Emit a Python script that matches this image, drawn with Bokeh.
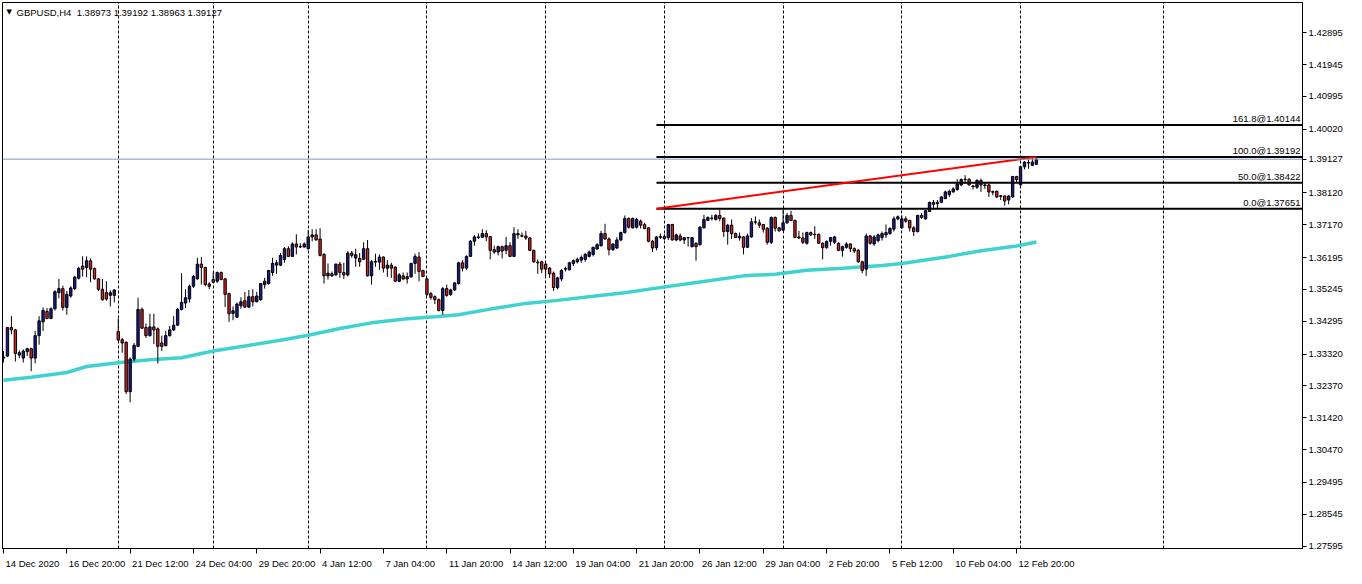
from bokeh.plotting import figure
from bokeh.models import (ColumnDataSource, FixedTicker, Span, Label, LabelSet, Range1d,
                          PrintfTickFormatter)
from bokeh.core.properties import value
from bokeh.embed import file_html
from bokeh.resources import INLINE

# ---------------- data ----------------
SYMBOL_TITLE = "GBPUSD,H4  1.38973 1.39192 1.38963 1.39127"

BARS = list(range(1, 263))

OPEN = [
    1.3320, 1.3326, 1.3411, 1.3404, 1.3329, 1.3320, 1.3339, 1.3348, 1.3320, 1.3387,
    1.3428, 1.3459, 1.3438, 1.3467, 1.3515, 1.3527, 1.3471, 1.3505, 1.3527, 1.3558,
    1.3594, 1.3590, 1.3610, 1.3587, 1.3556, 1.3525, 1.3515, 1.3507, 1.3507, 1.3399,
    1.3375, 1.3367, 1.3220, 1.3317, 1.3355, 1.3465, 1.3411, 1.3387, 1.3413, 1.3407,
    1.3365, 1.3357, 1.3387, 1.3404, 1.3418, 1.3465, 1.3484, 1.3496, 1.3534, 1.3556,
    1.3600, 1.3590, 1.3541, 1.3554, 1.3549, 1.3575, 1.3556, 1.3512, 1.3453, 1.3442,
    1.3476, 1.3491, 1.3472, 1.3503, 1.3488, 1.3494, 1.3539, 1.3542, 1.3575, 1.3597,
    1.3597, 1.3614, 1.3646, 1.3623, 1.3660, 1.3651, 1.3651, 1.3646, 1.3681, 1.3687,
    1.3675, 1.3629, 1.3565, 1.3571, 1.3568, 1.3600, 1.3575, 1.3568, 1.3633, 1.3618,
    1.3617, 1.3614, 1.3646, 1.3565, 1.3606, 1.3606, 1.3621, 1.3588, 1.3597, 1.3591,
    1.3549, 1.3565, 1.3556, 1.3562, 1.3602, 1.3621, 1.3581, 1.3556, 1.3512, 1.3503,
    1.3494, 1.3462, 1.3527, 1.3510, 1.3523, 1.3542, 1.3604, 1.3588, 1.3623, 1.3668,
    1.3679, 1.3680, 1.3691, 1.3682, 1.3643, 1.3636, 1.3652, 1.3641, 1.3655, 1.3623,
    1.3691, 1.3685, 1.3684, 1.3678, 1.3641, 1.3606, 1.3607, 1.3600, 1.3588, 1.3573,
    1.3530, 1.3556, 1.3585, 1.3583, 1.3602, 1.3607, 1.3612, 1.3614, 1.3623, 1.3629,
    1.3645, 1.3655, 1.3691, 1.3675, 1.3643, 1.3648, 1.3672, 1.3694, 1.3736, 1.3708,
    1.3710, 1.3728, 1.3718, 1.3708, 1.3668, 1.3649, 1.3680, 1.3676, 1.3679, 1.3718,
    1.3672, 1.3684, 1.3672, 1.3678, 1.3652, 1.3662, 1.3658, 1.3708, 1.3730, 1.3736,
    1.3733, 1.3745, 1.3737, 1.3697, 1.3716, 1.3691, 1.3678, 1.3681, 1.3650, 1.3681,
    1.3725, 1.3723, 1.3718, 1.3707, 1.3665, 1.3739, 1.3708, 1.3701, 1.3723, 1.3745,
    1.3730, 1.3681, 1.3678, 1.3662, 1.3694, 1.3688, 1.3689, 1.3662, 1.3649, 1.3668,
    1.3665, 1.3662, 1.3641, 1.3650, 1.3660, 1.3646, 1.3641, 1.3607, 1.3585, 1.3684,
    1.3660, 1.3670, 1.3679, 1.3687, 1.3691, 1.3704, 1.3735, 1.3708, 1.3735, 1.3730,
    1.3708, 1.3697, 1.3745, 1.3735, 1.3757, 1.3778, 1.3780, 1.3784, 1.3795, 1.3807,
    1.3815, 1.3822, 1.3836, 1.3852, 1.3853, 1.3833, 1.3829, 1.3849, 1.3836, 1.3836,
    1.3816, 1.3817, 1.3804, 1.3803, 1.3791, 1.3800, 1.3861, 1.3836, 1.3890, 1.3901,
    1.3894, 1.38973,
]

HIGH = [
    1.3341, 1.3413, 1.3445, 1.3407, 1.3343, 1.3346, 1.3351, 1.3351, 1.3401, 1.3445,
    1.3471, 1.3469, 1.3471, 1.3522, 1.3556, 1.3536, 1.3520, 1.3534, 1.3565, 1.3592,
    1.3623, 1.3623, 1.3617, 1.3590, 1.3558, 1.3556, 1.3549, 1.3522, 1.3525, 1.3438,
    1.3380, 1.3370, 1.3322, 1.3365, 1.3500, 1.3471, 1.3423, 1.3452, 1.3452, 1.3411,
    1.3387, 1.3401, 1.3416, 1.3445, 1.3469, 1.3573, 1.3525, 1.3539, 1.3568, 1.3619,
    1.3621, 1.3592, 1.3546, 1.3575, 1.3578, 1.3578, 1.3559, 1.3515, 1.3474, 1.3486,
    1.3501, 1.3517, 1.3523, 1.3525, 1.3517, 1.3544, 1.3559, 1.3583, 1.3619, 1.3612,
    1.3633, 1.3651, 1.3653, 1.3665, 1.3689, 1.3662, 1.3665, 1.3701, 1.3704, 1.3704,
    1.3707, 1.3633, 1.3602, 1.3578, 1.3602, 1.3607, 1.3604, 1.3639, 1.3639, 1.3646,
    1.3633, 1.3665, 1.3672, 1.3612, 1.3631, 1.3629, 1.3623, 1.3612, 1.3604, 1.3594,
    1.3573, 1.3575, 1.3575, 1.3604, 1.3631, 1.3636, 1.3583, 1.3559, 1.3517, 1.3507,
    1.3498, 1.3532, 1.3539, 1.3527, 1.3546, 1.3607, 1.3612, 1.3626, 1.3672, 1.3687,
    1.3691, 1.3704, 1.3701, 1.3684, 1.3655, 1.3655, 1.3655, 1.3681, 1.3665, 1.3710,
    1.3704, 1.3694, 1.3699, 1.3680, 1.3643, 1.3614, 1.3610, 1.3604, 1.3591, 1.3578,
    1.3562, 1.3585, 1.3592, 1.3607, 1.3614, 1.3620, 1.3626, 1.3633, 1.3641, 1.3652,
    1.3662, 1.3699, 1.3720, 1.3680, 1.3662, 1.3680, 1.3697, 1.3745, 1.3739, 1.3739,
    1.3738, 1.3733, 1.3723, 1.3710, 1.3672, 1.3684, 1.3691, 1.3689, 1.3720, 1.3720,
    1.3691, 1.3691, 1.3681, 1.3681, 1.3681, 1.3665, 1.3713, 1.3747, 1.3742, 1.3747,
    1.3749, 1.3762, 1.3739, 1.3720, 1.3733, 1.3694, 1.3694, 1.3684, 1.3691, 1.3737,
    1.3742, 1.3733, 1.3720, 1.3710, 1.3742, 1.3742, 1.3710, 1.3762, 1.3752, 1.3759,
    1.3733, 1.3699, 1.3694, 1.3697, 1.3697, 1.3713, 1.3691, 1.3665, 1.3670, 1.3681,
    1.3684, 1.3665, 1.3655, 1.3665, 1.3662, 1.3650, 1.3645, 1.3610, 1.3691, 1.3687,
    1.3687, 1.3691, 1.3697, 1.3718, 1.3710, 1.3742, 1.3745, 1.3745, 1.3742, 1.3732,
    1.3713, 1.3747, 1.3752, 1.3762, 1.3786, 1.3791, 1.3791, 1.3803, 1.3819, 1.3822,
    1.3829, 1.3853, 1.3855, 1.3865, 1.3855, 1.3836, 1.3853, 1.3855, 1.3842, 1.3839,
    1.3819, 1.3819, 1.3805, 1.3805, 1.3805, 1.3863, 1.3863, 1.3892, 1.3907, 1.3912,
    1.3916, 1.39192,
]

LOW = [
    1.3307, 1.3323, 1.3391, 1.3310, 1.3320, 1.3307, 1.3326, 1.3281, 1.3304, 1.3360,
    1.3401, 1.3436, 1.3436, 1.3462, 1.3498, 1.3462, 1.3449, 1.3500, 1.3523, 1.3554,
    1.3563, 1.3561, 1.3546, 1.3554, 1.3520, 1.3491, 1.3491, 1.3474, 1.3486, 1.3370,
    1.3336, 1.3213, 1.3188, 1.3310, 1.3352, 1.3407, 1.3380, 1.3384, 1.3362, 1.3304,
    1.3341, 1.3355, 1.3384, 1.3401, 1.3416, 1.3462, 1.3469, 1.3486, 1.3529, 1.3554,
    1.3539, 1.3534, 1.3525, 1.3544, 1.3544, 1.3552, 1.3472, 1.3428, 1.3433, 1.3440,
    1.3467, 1.3469, 1.3469, 1.3474, 1.3486, 1.3491, 1.3527, 1.3539, 1.3565, 1.3571,
    1.3594, 1.3604, 1.3621, 1.3621, 1.3629, 1.3648, 1.3649, 1.3643, 1.3668, 1.3670,
    1.3623, 1.3542, 1.3554, 1.3562, 1.3565, 1.3559, 1.3556, 1.3563, 1.3619, 1.3592,
    1.3592, 1.3612, 1.3563, 1.3539, 1.3592, 1.3583, 1.3575, 1.3562, 1.3559, 1.3546,
    1.3546, 1.3552, 1.3542, 1.3559, 1.3571, 1.3549, 1.3562, 1.3505, 1.3494, 1.3481,
    1.3459, 1.3449, 1.3503, 1.3505, 1.3520, 1.3539, 1.3578, 1.3583, 1.3621, 1.3655,
    1.3675, 1.3678, 1.3668, 1.3614, 1.3631, 1.3626, 1.3617, 1.3629, 1.3621, 1.3621,
    1.3675, 1.3680, 1.3672, 1.3639, 1.3604, 1.3571, 1.3573, 1.3565, 1.3559, 1.3520,
    1.3525, 1.3549, 1.3578, 1.3581, 1.3594, 1.3602, 1.3604, 1.3607, 1.3620, 1.3623,
    1.3643, 1.3652, 1.3672, 1.3626, 1.3639, 1.3645, 1.3668, 1.3691, 1.3706, 1.3706,
    1.3706, 1.3706, 1.3704, 1.3665, 1.3636, 1.3641, 1.3675, 1.3672, 1.3672, 1.3670,
    1.3668, 1.3668, 1.3660, 1.3652, 1.3650, 1.3610, 1.3655, 1.3707, 1.3728, 1.3730,
    1.3730, 1.3728, 1.3681, 1.3658, 1.3675, 1.3678, 1.3670, 1.3629, 1.3649, 1.3679,
    1.3718, 1.3708, 1.3694, 1.3658, 1.3660, 1.3697, 1.3697, 1.3699, 1.3720, 1.3728,
    1.3678, 1.3675, 1.3660, 1.3658, 1.3684, 1.3675, 1.3660, 1.3614, 1.3646, 1.3655,
    1.3660, 1.3639, 1.3622, 1.3646, 1.3636, 1.3633, 1.3604, 1.3573, 1.3565, 1.3658,
    1.3655, 1.3665, 1.3670, 1.3678, 1.3687, 1.3697, 1.3730, 1.3706, 1.3723, 1.3697,
    1.3684, 1.3694, 1.3735, 1.3732, 1.3755, 1.3762, 1.3765, 1.3781, 1.3794, 1.3800,
    1.3813, 1.3819, 1.3832, 1.3839, 1.3834, 1.3822, 1.3824, 1.3815, 1.3824, 1.3800,
    1.3805, 1.3797, 1.3791, 1.3774, 1.3778, 1.3797, 1.3844, 1.3834, 1.3882, 1.3884,
    1.3892, 1.38963,
]

CLOSE = [
    1.3323, 1.3411, 1.3404, 1.3334, 1.3336, 1.3341, 1.3348, 1.3320, 1.3387, 1.3431,
    1.3462, 1.3438, 1.3467, 1.3518, 1.3527, 1.3471, 1.3510, 1.3529, 1.3561, 1.3587,
    1.3585, 1.3610, 1.3585, 1.3556, 1.3525, 1.3494, 1.3496, 1.3515, 1.3523, 1.3374,
    1.3365, 1.3220, 1.3317, 1.3358, 1.3465, 1.3409, 1.3387, 1.3413, 1.3404, 1.3355,
    1.3355, 1.3387, 1.3404, 1.3418, 1.3465, 1.3486, 1.3500, 1.3534, 1.3563, 1.3600,
    1.3590, 1.3539, 1.3534, 1.3546, 1.3575, 1.3554, 1.3510, 1.3452, 1.3461, 1.3481,
    1.3488, 1.3472, 1.3503, 1.3488, 1.3505, 1.3542, 1.3549, 1.3581, 1.3602, 1.3604,
    1.3626, 1.3646, 1.3623, 1.3660, 1.3651, 1.3652, 1.3660, 1.3681, 1.3687, 1.3672,
    1.3626, 1.3565, 1.3573, 1.3565, 1.3600, 1.3575, 1.3568, 1.3633, 1.3626, 1.3628,
    1.3607, 1.3646, 1.3565, 1.3607, 1.3608, 1.3621, 1.3588, 1.3597, 1.3588, 1.3549,
    1.3568, 1.3556, 1.3563, 1.3602, 1.3623, 1.3578, 1.3563, 1.3510, 1.3501, 1.3494,
    1.3462, 1.3527, 1.3507, 1.3523, 1.3544, 1.3604, 1.3588, 1.3623, 1.3668, 1.3681,
    1.3681, 1.3691, 1.3681, 1.3641, 1.3636, 1.3652, 1.3639, 1.3655, 1.3623, 1.3691,
    1.3687, 1.3683, 1.3678, 1.3641, 1.3607, 1.3604, 1.3585, 1.3585, 1.3571, 1.3530,
    1.3559, 1.3581, 1.3587, 1.3604, 1.3610, 1.3614, 1.3620, 1.3629, 1.3636, 1.3650,
    1.3658, 1.3691, 1.3675, 1.3643, 1.3660, 1.3672, 1.3694, 1.3736, 1.3710, 1.3736,
    1.3733, 1.3716, 1.3706, 1.3668, 1.3648, 1.3681, 1.3682, 1.3682, 1.3718, 1.3672,
    1.3687, 1.3672, 1.3679, 1.3679, 1.3679, 1.3652, 1.3710, 1.3733, 1.3739, 1.3737,
    1.3745, 1.3736, 1.3697, 1.3716, 1.3691, 1.3679, 1.3683, 1.3650, 1.3684, 1.3726,
    1.3726, 1.3716, 1.3704, 1.3665, 1.3739, 1.3707, 1.3699, 1.3723, 1.3745, 1.3730,
    1.3679, 1.3678, 1.3665, 1.3694, 1.3687, 1.3689, 1.3662, 1.3649, 1.3668, 1.3679,
    1.3681, 1.3641, 1.3652, 1.3660, 1.3646, 1.3639, 1.3607, 1.3581, 1.3684, 1.3662,
    1.3681, 1.3687, 1.3691, 1.3694, 1.3706, 1.3735, 1.3741, 1.3735, 1.3728, 1.3708,
    1.3697, 1.3745, 1.3739, 1.3759, 1.3784, 1.3784, 1.3784, 1.3800, 1.3815, 1.3817,
    1.3824, 1.3839, 1.3852, 1.3853, 1.3836, 1.3831, 1.3849, 1.3836, 1.3834, 1.3815,
    1.3814, 1.3800, 1.3802, 1.3788, 1.3803, 1.3861, 1.3852, 1.3890, 1.3904, 1.3903,
    1.3904, 1.39127,
]

# moving average (turquoise line) read at selected bars
MA_BARS = [1, 8, 17, 22, 30, 38, 46, 54, 71, 78, 86, 94, 103, 110, 116, 124,
           133, 141, 150, 158, 165, 177, 188, 196, 204, 213, 223, 228, 240, 248, 257, 262]
MA_VALS = [1.3254, 1.3263, 1.3277, 1.3295, 1.3306, 1.3315, 1.3321, 1.3341, 1.3373, 1.3388,
           1.3408, 1.3425, 1.3437, 1.3443, 1.3449, 1.3466, 1.3483, 1.3492, 1.3504, 1.3515,
           1.3527, 1.3547, 1.3565, 1.3570, 1.3582, 1.3588, 1.3596, 1.3602, 1.3623, 1.3640,
           1.3654, 1.3666]

# Fibonacci retracement object
FIB_START_BAR = 166
FIB_END_BAR = 262
FIB_LEVELS = [1.40144, 1.39192, 1.38422, 1.37651]
FIB_TEXT = ["161.8@1.40144", "100.0@1.39192", "50.0@1.38422", "0.0@1.37651"]

LAST_PRICE = 1.39127

# axes
X_LO, X_HI = 0.75, 329.25
Y_LO, Y_HI = 1.27528, 1.43794
Y_TICKS = [1.42895, 1.41945, 1.40995, 1.40020, 1.39127, 1.38120, 1.37170, 1.36195, 1.35245,
           1.34295, 1.33320, 1.32370, 1.31420, 1.30470, 1.29495, 1.28545, 1.27595]
X_LABEL_BARS = [1, 17, 33, 49, 65, 81, 97, 113, 129, 145, 161, 177, 193, 209, 225, 241, 257]
X_LABELS = ["14 Dec 2020", "16 Dec 20:00", "21 Dec 12:00", "24 Dec 04:00", "29 Dec 20:00",
            "4 Jan 12:00", "7 Jan 04:00", "11 Jan 20:00", "14 Jan 12:00", "19 Jan 04:00",
            "21 Jan 20:00", "26 Jan 12:00", "29 Jan 04:00", "2 Feb 20:00", "5 Feb 12:00",
            "10 Feb 04:00", "12 Feb 20:00"]
WEEK_GRID_BARS = [30, 54, 78, 108, 138, 168, 198, 228, 258, 294]

# ---------------- styling ----------------
FONT = "Liberation Sans"
FS_PX = 9.5
FS = "9.5px"
BULL = "#1a1a8c"
BEAR = "#d42020"
FRAME_W, FRAME_H = 1300, 546
BORDER_L, BORDER_T = 2, 2

top = [max(o, c) for o, c in zip(OPEN, CLOSE)]
bot = [min(o, c) for o, c in zip(OPEN, CLOSE)]
col = [BULL if c >= o else BEAR for o, c in zip(OPEN, CLOSE)]
src = ColumnDataSource(dict(x=BARS, h=HIGH, l=LOW, top=top, bot=bot, col=col))

p = figure(frame_width=FRAME_W, frame_height=FRAME_H,
           x_range=Range1d(X_LO, X_HI), y_range=Range1d(Y_LO, Y_HI),
           y_axis_location="right", output_backend="svg", toolbar_location=None,
           min_border_left=BORDER_L, min_border_top=BORDER_T, min_border_right=0, min_border_bottom=0)
p.background_fill_color = "white"
p.border_fill_color = "white"
p.outline_line_color = "black"
p.outline_line_width = 1

# grid
p.ygrid.visible = False
p.xgrid.ticker = FixedTicker(ticks=WEEK_GRID_BARS)
p.xgrid.grid_line_color = "black"
p.xgrid.grid_line_dash = "3 2"
p.xgrid.grid_line_width = 1

# y axis (includes the current price level)
ya = p.yaxis[0]
ya.ticker = FixedTicker(ticks=Y_TICKS)
ya.formatter = PrintfTickFormatter(format="%.5f")
ya.axis_line_color = "black"
ya.major_tick_in = 0
ya.major_tick_out = 4
ya.minor_tick_line_color = None
ya.major_label_standoff = 2
ya.major_label_text_font = FONT
ya.major_label_text_font_size = FS
ya.major_label_text_color = "black"

# x axis: tick marks (minor ticks) at the label bars, labels left-aligned to them
CHAR_W = {" ": 0.278, ":": 0.278, "D": 0.722, "J": 0.5, "F": 0.611,
          "e": 0.556, "c": 0.5, "a": 0.556, "n": 0.556, "b": 0.556}
px_per_bar = FRAME_W / (X_HI - X_LO)
centers = []
for b, s in zip(X_LABEL_BARS, X_LABELS):
    w = sum(CHAR_W.get(ch, 0.556) for ch in s) * FS_PX
    c = round(b + (w / 2 + 2) / px_per_bar, 3)
    if c == int(c):
        c += 0.001
    centers.append(c)

xa = p.xaxis[0]
xa.ticker = FixedTicker(ticks=centers, minor_ticks=X_LABEL_BARS)
xa.major_label_overrides = {c: s for c, s in zip(centers, X_LABELS)}
xa.axis_line_color = "black"
xa.major_tick_in = 0
xa.major_tick_out = 0
xa.major_tick_line_color = None
xa.minor_tick_in = 0
xa.minor_tick_out = 5
xa.minor_tick_line_color = "black"
xa.major_label_standoff = 4
xa.major_label_text_font = FONT
xa.major_label_text_font_size = FS
xa.major_label_text_color = "black"

# current price line
p.add_layout(Span(location=LAST_PRICE, dimension="width", line_color="#7f98bc", line_width=1))

# moving average
p.line(MA_BARS, MA_VALS, line_color="#3fd2cf", line_width=3.5)

# candles
p.segment(x0="x", y0="h", x1="x", y1="l", source=src, line_color="black", line_width=1)
p.vbar(x="x", top="top", bottom="bot", width=0.6, source=src,
       fill_color="col", line_color="black", line_width=1)

# fibonacci lines
n = len(FIB_LEVELS)
p.segment(x0=[FIB_START_BAR] * n, x1=[X_HI] * n, y0=FIB_LEVELS, y1=FIB_LEVELS,
          line_color="black", line_width=2)
p.line([FIB_START_BAR, FIB_END_BAR], [FIB_LEVELS[3], FIB_LEVELS[1]], line_color="#ff0000", line_width=2)

fib_src = ColumnDataSource(dict(x=[X_HI] * n, y=FIB_LEVELS, t=FIB_TEXT))
p.add_layout(LabelSet(x="x", y="y", text="t", source=fib_src, text_align="right",
                      text_baseline="bottom", x_offset=-2, y_offset=1,
                      text_font=value(FONT), text_font_size=FS, text_color="black"))

# title inside chart
p.add_layout(Label(x=4, x_units="screen", y=Y_HI, y_offset=-5, text="\u25BC",
                   text_baseline="top", text_font="DejaVu Sans", text_font_size="7px",
                   text_color="black"))
p.add_layout(Label(x=14, x_units="screen", y=Y_HI, y_offset=-4,
                   text=SYMBOL_TITLE.replace("  ", "\u00a0 "),
                   text_baseline="top", text_font=FONT, text_font_size=FS,
                   text_color="black"))

open("out.html", "w").write(file_html(p, INLINE))
